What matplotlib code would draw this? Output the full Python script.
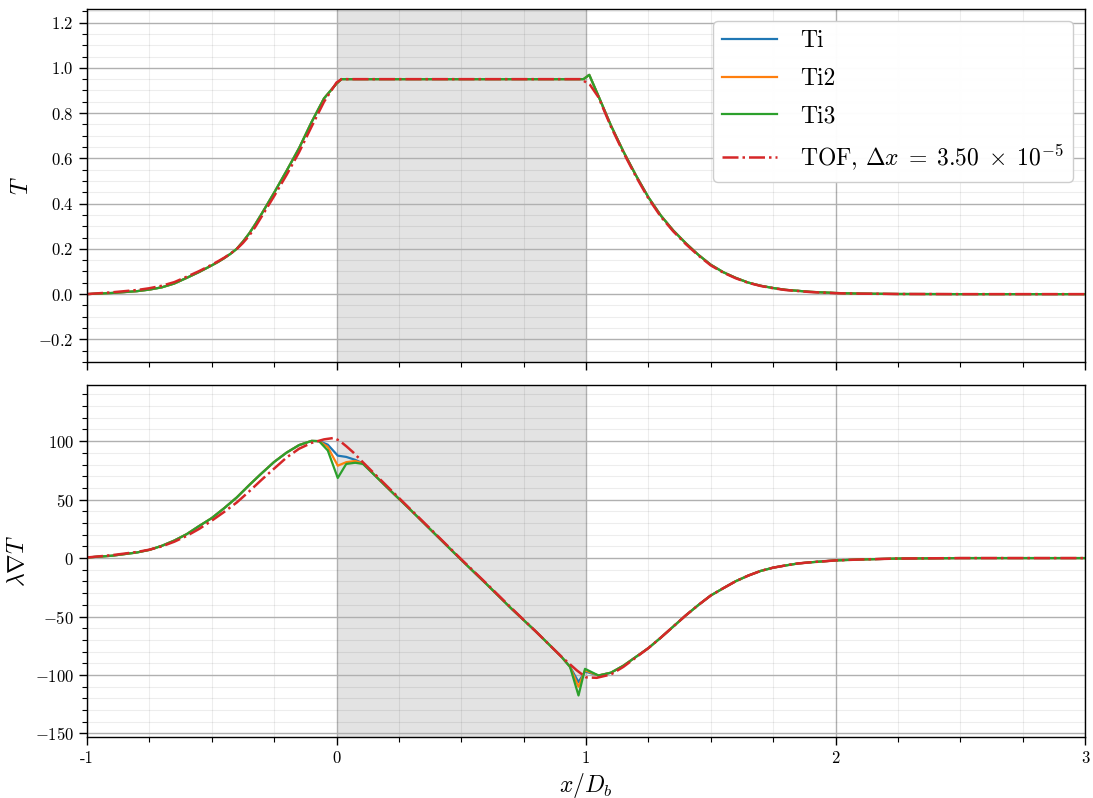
import matplotlib
matplotlib.use('Agg')
import matplotlib.pyplot as plt
from matplotlib.ticker import MultipleLocator

plt.rcParams['font.family'] = 'serif'
plt.rcParams['font.serif'] = ['cmr10']
plt.rcParams['mathtext.fontset'] = 'cm'
plt.rcParams['axes.formatter.use_mathtext'] = True
plt.rcParams['axes.unicode_minus'] = True

# ---- top panel: temperature ----
x_T = [-1.0, -0.9, -0.8, -0.75, -0.7, -0.65, -0.6, -0.55, -0.5, -0.475, -0.45, -0.425,
       -0.4, -0.375, -0.35, -0.325, -0.3, -0.25, -0.2, -0.15, -0.1, -0.05, 0.0, 0.02,
       0.25, 0.5, 0.75, 0.99, 1.013, 1.05, 1.1, 1.15, 1.2, 1.25, 1.3, 1.35, 1.4,
       1.45, 1.5, 1.55, 1.6, 1.65, 1.7, 1.75, 1.8, 1.9, 2.0, 2.1, 2.25, 2.5, 3.0]
T_ti3 = [0.0, 0.005, 0.013, 0.02, 0.03, 0.047, 0.072, 0.098, 0.127, 0.142, 0.159, 0.178,
         0.2, 0.232, 0.268, 0.31, 0.355, 0.448, 0.545, 0.645, 0.76, 0.865, 0.93, 0.95,
         0.95, 0.95, 0.95, 0.95, 0.969, 0.875, 0.745, 0.63, 0.525, 0.428, 0.347, 0.281, 0.225,
         0.174, 0.13, 0.097, 0.072, 0.051, 0.037, 0.027, 0.019, 0.01, 0.005, 0.002, 0.0005, 0.0, 0.0]
T_ti = list(T_ti3)
T_ti2 = list(T_ti3)

x_T_tof = [-1.0, -0.9, -0.8, -0.75, -0.7, -0.65, -0.6, -0.55, -0.5, -0.475, -0.45, -0.425,
           -0.4, -0.375, -0.35, -0.325, -0.3, -0.25, -0.2, -0.15, -0.1, -0.05, 0.0, 0.02,
           0.25, 0.5, 0.75, 0.98, 1.016, 1.05, 1.1, 1.15, 1.2, 1.25, 1.3, 1.35, 1.4,
           1.45, 1.5, 1.55, 1.6, 1.65, 1.7, 1.75, 1.8, 1.9, 2.0, 2.1, 2.25, 2.5, 3.0]
T_tof = [0.0, 0.008, 0.018, 0.026, 0.037, 0.053, 0.077, 0.102, 0.13, 0.145, 0.161, 0.179,
         0.199, 0.226, 0.258, 0.298, 0.343, 0.433, 0.527, 0.627, 0.74, 0.85, 0.935, 0.95,
         0.95, 0.95, 0.95, 0.95, 0.925, 0.87, 0.74, 0.625, 0.52, 0.423, 0.342, 0.277, 0.221,
         0.171, 0.127, 0.095, 0.07, 0.05, 0.036, 0.026, 0.018, 0.009, 0.004, 0.002, 0.0005, 0.0, 0.0]

# ---- bottom panel: heat flux ----
x_G = [-1.0, -0.9, -0.8, -0.75, -0.7, -0.65, -0.6, -0.55, -0.5, -0.45, -0.4, -0.35,
       -0.3, -0.25, -0.2, -0.15, -0.1, -0.07, -0.035, 0.005, 0.039, 0.075, 0.106,
       0.2, 0.3, 0.4, 0.5, 0.6, 0.7, 0.8, 0.9, 0.936, 0.97, 0.996, 1.05, 1.1, 1.15,
       1.2, 1.25, 1.3, 1.35, 1.4, 1.45, 1.5, 1.55, 1.6, 1.65, 1.7, 1.75, 1.8, 1.85,
       1.9, 2.0, 2.1, 2.25, 2.5, 3.0]
G_ti3 = [0.5, 2.0, 4.8, 7.0, 10.5, 15.0, 20.5, 27.5, 34.2, 42.7, 51.8, 62.4,
         72.5, 82.2, 90.2, 96.6, 100.2, 100.0, 92.0, 68.5, 80.5, 81.5, 80.5,
         61.0, 40.5, 19.5, -1.5, -22.0, -43.0, -63.0, -84.0, -93.0, -117.5, -94.7, -100.4, -98.0, -92.0,
         -84.5, -77.0, -68.0, -58.5, -49.0, -40.2, -32.0, -25.8, -19.8, -15.0, -11.0, -8.2, -6.3, -4.6,
         -3.6, -2.0, -1.2, -0.4, 0.0, 0.0]
G_ti = [0.5, 2.0, 4.8, 7.0, 10.5, 15.0, 20.5, 27.5, 34.2, 42.7, 51.8, 62.4,
        72.5, 82.2, 90.2, 96.6, 100.2, 100.0, 97.0, 87.6, 86.5, 84.0, 81.0,
        61.0, 40.5, 19.5, -1.5, -22.0, -43.0, -63.0, -84.0, -93.0, -106.0, -97.0, -100.4, -98.0, -92.0,
        -84.5, -77.0, -68.0, -58.5, -49.0, -40.2, -32.0, -25.8, -19.8, -15.0, -11.0, -8.2, -6.3, -4.6,
        -3.6, -2.0, -1.2, -0.4, 0.0, 0.0]
G_ti2 = [0.5, 2.0, 4.8, 7.0, 10.5, 15.0, 20.5, 27.5, 34.2, 42.7, 51.8, 62.4,
         72.5, 82.2, 90.2, 96.6, 100.2, 100.0, 95.0, 79.0, 82.0, 83.0, 81.0,
         61.0, 40.5, 19.5, -1.5, -22.0, -43.0, -63.0, -84.0, -93.0, -110.0, -96.0, -100.4, -98.0, -92.0,
         -84.5, -77.0, -68.0, -58.5, -49.0, -40.2, -32.0, -25.8, -19.8, -15.0, -11.0, -8.2, -6.3, -4.6,
         -3.6, -2.0, -1.2, -0.4, 0.0, 0.0]

x_G_tof = [-1.0, -0.9, -0.8, -0.75, -0.7, -0.65, -0.6, -0.55, -0.5, -0.45, -0.4, -0.35,
           -0.3, -0.25, -0.2, -0.15, -0.1, -0.05, -0.011, 0.012, 0.04, 0.067, 0.106,
           0.2, 0.3, 0.4, 0.5, 0.6, 0.7, 0.8, 0.9, 0.963, 1.0, 1.043, 1.1, 1.15,
           1.2, 1.25, 1.3, 1.35, 1.4, 1.45, 1.5, 1.55, 1.6, 1.65, 1.7, 1.75, 1.8, 1.85,
           1.9, 2.0, 2.1, 2.25, 2.5, 3.0]
G_tof = [0.5, 2.5, 5.2, 7.2, 10.0, 14.0, 19.0, 25.0, 32.0, 39.5, 47.5, 57.0,
         67.0, 76.5, 86.0, 93.5, 98.5, 101.5, 102.7, 100.4, 95.5, 90.4, 81.9,
         62.0, 41.0, 20.0, -1.0, -21.5, -42.5, -63.0, -84.0, -96.0, -102.0, -102.4, -99.5, -93.0,
         -85.0, -77.0, -68.0, -58.5, -49.0, -40.2, -32.0, -25.8, -19.8, -15.0, -11.0, -8.2, -6.3, -4.6,
         -3.6, -2.0, -1.2, -0.4, 0.0, 0.0]

xtick_pos = [-1, 0, 1, 2, 3]
xtick_labels = ['-1', '0', '1', '2', '3']

fig = plt.figure(figsize=(10.93, 7.98), dpi=100)
ax1 = fig.add_axes([87 / 1093, 1 - 362 / 798, 998 / 1093, 353 / 798])
ax2 = fig.add_axes([87 / 1093, 1 - 737 / 798, 998 / 1093, 352 / 798], sharex=ax1)

for ax in (ax1, ax2):
    ax.axvspan(0, 1, color='#e3e3e3', zorder=0, lw=0)
    ax.grid(which='major', color='#b0b0b0', lw=1.0)
    # translucent so minor lines never lighten the major ones they cross
    ax.grid(which='minor', color='k', alpha=0.07, lw=0.8)
    ax.set_axisbelow(True)
    ax.xaxis.set_minor_locator(MultipleLocator(0.25))
    ax.tick_params(which='major', direction='out', length=6, width=1, labelsize=12)
    ax.tick_params(which='minor', direction='out', length=3.5, width=0.8)
    for s in ax.spines.values():
        s.set_linewidth(1.0)

ax1.plot(x_T, T_ti, color='C0', lw=1.6, label='Ti')
ax1.plot(x_T, T_ti2, color='C1', lw=1.6, label='Ti2')
ax1.plot(x_T, T_ti3, color='C2', lw=1.6, label='Ti3')
ax1.plot(x_T_tof, T_tof, color='C3', lw=1.8, ls='-.',
         label=r'TOF, $\Delta x \;=\; 3.50 \;\times\; 10^{-5}$')
ax1.set_ylim(-0.3, 1.26)
ax1.yaxis.set_major_locator(MultipleLocator(0.2))
ax1.yaxis.set_minor_locator(MultipleLocator(0.05))
ax1.set_ylabel(r'$T$', fontsize=17)
ax1.tick_params(axis='x', labelbottom=False)
ax1.legend(loc='upper right', fontsize=17, framealpha=0.97, handlelength=2.3,
           labelspacing=0.65, handletextpad=1.0)

ax2.plot(x_G, G_ti, color='C0', lw=1.6)
ax2.plot(x_G, G_ti2, color='C1', lw=1.6)
ax2.plot(x_G, G_ti3, color='C2', lw=1.6)
ax2.plot(x_G_tof, G_tof, color='C3', lw=1.8, ls='-.')
ax2.set_ylim(-153, 148)
ax2.yaxis.set_major_locator(MultipleLocator(50))
ax2.yaxis.set_minor_locator(MultipleLocator(10))
ax2.set_ylabel(r'$\lambda\nabla T$', fontsize=17)
ax2.set_xlim(-1, 3)
ax2.set_xticks(xtick_pos)
ax2.set_xticklabels(xtick_labels)
ax2.set_xlabel(r'$x/D_b$', fontsize=17)

fig.savefig('out.png', dpi=100)
